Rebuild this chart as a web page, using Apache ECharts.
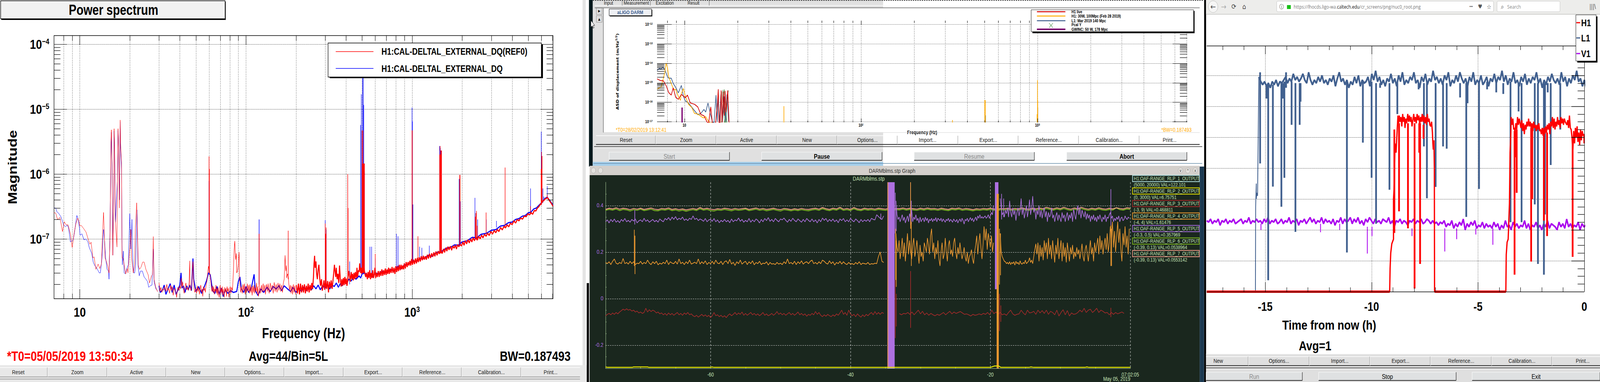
<!DOCTYPE html>
<html><head><meta charset="utf-8"><style>html,body{margin:0;padding:0;background:#fff;overflow:hidden}#c{width:5004px;height:977px;transform-origin:0 0}</style>
<script src="https://cdn.jsdelivr.net/npm/echarts@6/dist/echarts.min.js"></script></head><body><div id="c"></div>
<script>
// ---------- PANEL 1 : Power spectrum. pairs [Hz, magnitude in 1e-8]
const refLow=[[7,25.4],[7.16,25],[7.35,20],[7.6,21.4],[7.87,13],[8.07,18.4],[8.28,16.5],[8.5,16.5],[8.8,11.7],[9,7.4],[9.25,12.2],[9.48,17.3],[9.72,20.9],[9.9,18.6],[10,15.8],[10.2,16.2],[10.5,14.7],[10.9,12.8],[11.2,10.2],[11.5,8.3],[11.7,8.9],[12,5.1],[12.2,5.3],[12.5,3.4],[12.9,4.1],[13.2,3.5],[13.5,4.1],[13.7,11.7],[13.9,25.6],[14,16],[14.2,5.1],[14.5,4.4],[14.8,3.7],[15,3],[15.2,10],[15.4,320],[15.5,480],[15.65,140],[15.75,20],[15.8,5.6],[16,40],[16.1,500],[16.2,290],[16.35,20],[16.75,7.5],[16.85,100],[17,500],[17.1,320],[17.3,30],[17.5,680],[17.6,300],[17.85,150],[17.95,6],[18,5.1],[18.2,5.1],[18.6,3.7],[18.9,2.9],[19.3,3.5],[19.5,3],[20,7.4],[20.3,14],[20.5,5.1],[21,3],[21.4,4],[21.6,14.7],[22,36],[22.2,16.2],[22.5,3.9],[22.9,3.4],[23.4,3.7],[23.9,4.4],[24.4,4.4],[25,3.4],[25.8,2.8],[26.3,2.1],[27,2.7],[27.4,2.8],[27.7,10.9],[28,2.4],[28.6,1.84],[29.4,1.53]];
const refMid=[[30,2.1],[30.4,1.55],[30.8,1.8],[31.2,1.5],[31.6,1.7],[32,1.62],[32.5,1.85],[33,1.55],[33.4,2],[33.8,1.6],[34.2,1.75],[34.7,1.45],[35.2,1.95],[35.6,1.6],[36,1.85],[36.5,1.35],[37,1.75],[37.5,1.6],[38,1.45],[38.3,1.25],[38.6,1.6],[39,1.8],[39.5,1.6],[40,1.9],[40.4,1.7],[40.8,2.5],[41.2,1.8],[41.6,2.2],[42,1.7],[42.5,1.45],[43,1.8],[43.5,2.1],[44,1.65],[44.5,1.8],[45,1.6],[45.5,2.2],[45.9,4.6],[46.1,1.9],[46.7,1.6],[47.2,1.9],[47.6,3.2],[48,4.5],[48.3,2.5],[48.8,1.7],[49.3,1.5],[50,1.75],[50.5,1.45],[51,1.9],[51.5,1.55],[52,1.8],[52.5,1.4],[53,1.7],[53.5,1.95],[54,1.5],[54.5,1.7],[55,1.3],[55.5,1.85],[56,1.6],[56.5,1.75],[57,1.5],[57.5,1.9],[58,2.1],[58.5,2.4],[59,3.2],[59.5,3.8],[60.5,3],[61,2.6],[61.5,2.2],[62,1.7],[62.5,1.55],[63,1.9],[63.5,1.5],[64,1.85],[64.5,1.4],[65,1.7],[65.5,1.55],[66,1.95],[66.5,1.45],[67,1.75],[67.5,1.35],[68,1.8],[68.5,1.5],[69,1.25],[69.5,1.7],[70,1.95],[70.5,1.4],[71,1.75],[71.5,1.5],[72,1.85],[72.5,1.35],[73,1.7],[73.5,1.45],[74,1.25],[74.5,1.8],[75,1.5],[75.7,1.75],[76.4,1.3],[77,1.85],[77.7,1.55],[78.4,1.75],[79,1.25],[79.8,1.65],[80.5,1.85],[81.2,1.45],[82,1.8],[83,1.6],[84,3],[85,7],[85.7,9.3],[86.2,6.5],[86.8,4.8],[87.5,6],[88,3],[89,3.2],[90,4],[91,6.3],[91.5,2.5],[92,2],[93,1.5],[94,1.85],[95,1.45],[96,2],[97,1.6],[98,2.05],[99,1.4],[100,1.85],[101,1.5],[102,2.05],[103,1.55],[104,1.95],[105,1.45],[106,2],[107,1.5],[108,1.85],[109,1.35],[110,1.9],[111,1.5],[112,1.95],[113,1.45],[114,1.8],[115,1.55],[116,2.1],[117,1.4],[118,1.85],[119,1.3],[121,1.8],[122,1.45],[124,1.95],[125,1.5],[127,2.05],[128,1.55],[130,1.95],[131,1.4],[133,2],[135,1.55],[136,2.05],[138,1.45],[140,2.1],[142,1.6],[144,1.95],[146,1.45],[148,2.15],[150,1.55],[152,2],[154,1.5],[156,2.1],[158,1.6],[160,2.05],[162,1.55],[164,1.95],[166,1.5],[168,2.1],[170,2.4],[172,5.6],[173,4],[174,3.2],[175,3.9],[176,2.5],[178,2.9],[180,2.6],[181,2.1],[183,1.6],[185,1.95],[187,1.45],[189,1.9],[191,1.4],[193,2],[195,1.5],[197,1.9],[199,1.4]];
const refHigh=[[201,1.95],[204,1.45],[207,2.05],[210,1.4],[213,2.05],[216,1.5],[219,1.95],[222,1.5],[225,2],[228,1.45],[231,1.9],[234,1.55],[237,2.05],[240,1.5],[243,1.95],[246,1.6],[249,2.1],[252,1.7],[255,2.6],[257,4.2],[259,5.5],[261,3.6],[264,4.5],[266,3],[269,2.4],[272,3.4],[275,4],[278,2.5],[281,1.9],[285,2.4],[288,1.6],[292,1.9],[295,2.3],[298,1.65],[302,2.3],[306,1.7],[310,2.25],[314,1.5],[318,2.2],[322,1.75],[326,2.3],[330,1.7],[334,2.25],[338,3.1],[341,4],[344,3.2],[347,2.6],[350,3.6],[354,2.4],[358,2.9],[362,2.1],[366,3.9],[370,2.4],[374,1.85],[378,2.4],[382,1.9],[386,2.5],[390,1.95],[394,2.6],[398,2],[402,2.45],[406,1.9],[412,2.6],[416,3.2],[420,2.8],[424,2.2],[430,3.1],[434,2.4],[438,2.9],[443,2.3],[447,3],[452,2.4],[456,3.1],[462,2.5],[466,3.6],[470,2.6],[476,3.3],[480,3.1],[484,4.2],[490,3],[494,3.6],[498,2.9],[504,3.4],[512,3.8],[520,2.9],[526,2.6],[532,3],[538,2.4],[544,3.1],[550,2.5],[556,3.3],[562,2.4],[568,3],[574,2.5],[580,3.3],[586,2.5],[592,2.8],[598,3.6],[604,2.5],[610,3],[618,2.6],[626,3.2],[634,2.6],[642,3.2],[650,2.7],[658,3.4],[666,2.7],[674,3.3],[682,2.8],[690,3.5],[698,2.8],[706,3.4],[714,2.9],[722,3.6],[730,2.9],[738,3.5],[748,3],[758,3.7],[768,3],[778,3.6],[788,2.9],[798,3.8],[808,3.1],[818,3.8],[828,3.2],[838,4],[848,3.3],[858,4],[868,3.4],[878,3.9],[888,3.4],[898,4.2],[910,3.5],[922,4.4],[934,3.7],[946,4.4],[958,3.9],[970,4.6],[982,3.9],[994,4.9],[1006,4],[1020,4.8],[1034,4.1],[1048,5],[1062,4.2],[1076,5.1],[1090,4.4],[1104,5.2],[1120,4.5],[1136,5.4],[1152,4.7],[1168,5.5],[1184,4.8],[1200,5.4],[1218,4.8],[1236,5.7],[1254,5],[1272,5.9],[1292,5.1],[1312,6],[1332,5.3],[1352,6.2],[1372,5.4],[1392,6.4],[1414,5.6],[1436,6.5],[1458,5.9],[1480,6.7],[1520,6],[1545,7],[1570,6.2],[1595,7.3],[1620,6.5],[1645,7.6],[1670,6.8],[1700,7.7],[1730,6.7],[1760,7.8],[1790,7.2],[1820,8],[1850,7],[1880,8.2],[1910,7.6],[1950,8.2],[1985,7.8],[2020,9],[2055,8],[2090,9.4],[2130,8.4],[2170,9.7],[2210,8.7],[2250,10],[2290,9],[2330,10.4],[2375,9.4],[2420,10.6],[2465,9.6],[2520,11],[2570,10],[2620,11.5],[2670,10.4],[2730,11.8],[2790,11],[2850,12.3],[2910,11.3],[2980,13],[3050,11.9],[3120,13.5],[3190,12.5],[3260,14],[3330,13],[3410,15],[3490,13.8],[3570,15.6],[3650,14.8],[3730,16.5],[3820,15.4],[3910,17.6],[4000,16.6],[4100,19],[4200,17.6],[4300,20],[4400,19],[4500,21],[4620,20.2],[4740,22.6],[4860,22],[4980,24.5],[5100,23.5],[5200,25.5],[5320,24],[5440,27.4],[5560,27],[5680,30],[5800,31.5],[5900,34],[6000,35],[6100,38],[6200,39],[6300,41],[6400,42],[6500,43],[6600,42],[6700,39],[6800,37],[6900,35],[7050,32]];
const dqLow=[[7,30],[7.16,29.8],[7.3,26],[7.45,25],[7.7,22],[7.85,19],[8,16.4],[8.2,15.4],[8.4,16.3],[8.55,15],[8.7,11],[8.78,9],[9,9.4],[9.14,9.7],[9.3,12.8],[9.5,19],[9.6,23],[9.75,20.8],[9.95,15],[10.05,11.4],[10.3,12],[10.6,9.7],[10.9,10],[11.2,9],[11.4,7.4],[11.8,6],[12.05,4.4],[12.3,3.9],[12.7,3.5],[13.1,3],[13.3,3],[13.6,5],[13.9,14],[14.05,11],[14.3,5.2],[14.6,3.4],[14.9,3.2],[15,2.4],[15.2,13],[15.4,230],[15.5,440],[15.65,120],[15.8,5.6],[16,50],[16.1,460],[16.2,240],[16.4,18],[16.85,80],[17,470],[17.1,290],[17.35,40],[17.5,640],[17.6,270],[17.85,120],[17.95,10],[18.05,4],[18.3,6.5],[18.5,3],[18.8,2.9],[19.2,3.5],[19.6,4],[20,24.5],[20.3,7],[20.6,20],[20.85,5],[21.1,3],[21.4,3],[21.7,4],[22.1,28],[22.4,4],[22.8,2.7],[23.2,3.2],[23.8,3.2],[24.4,2.6],[25,2.4],[25.6,2.2],[26,1.8],[26.6,1.9],[27.2,1.95],[27.7,7],[28,2.2],[28.7,1.7],[29.4,1.6]];
const dqMain=[[30,1.9],[30.5,1.5],[31.5,1.65],[32.2,1.95],[33,1.4],[34,1.7],[35,2.05],[36,1.5],[37,1.95],[38,1.4],[39,1.65],[40,1.95],[40.7,3],[41.2,1.75],[42,1.9],[43,1.5],[44,1.9],[45,1.65],[46,1.95],[47,1.6],[48,5],[48.5,2.4],[50,1.55],[52,1.85],[54,1.45],[56,1.8],[58,2.3],[59.5,3],[61,2.8],[63,1.6],[65,1.45],[67,1.85],[69,1.4],[71,1.75],[73,1.3],[75,1.65],[78,1.45],[81,1.6],[84,1.5],[88,1.55],[90,2.2],[92,2.6],[94,1.7],[97,1.5],[100,1.85],[104,1.5],[108,1.8],[112,2.85],[114,1.6],[118,1.35],[123,1.7],[128,1.5],[134,1.8],[140,1.55],[146,1.85],[152,1.7],[158,1.9],[164,1.6],[170,1.9],[178,1.7],[186,1.55],[192,1.8],[200,1.5],[208,1.75],[216,1.55],[224,1.85],[232,1.6],[240,1.8],[248,1.65],[256,1.9],[264,1.7],[272,1.95],[280,1.65],[290,1.9],[300,1.75],[310,2],[320,1.7],[330,1.95],[340,1.85],[350,2.1],[360,1.8],[370,2.05],[380,1.9],[392,2.4],[404,2.05],[416,2.4],[430,2.25],[445,2.6],[460,2.4],[480,2.7],[490,2.5],[500,2.9],[520,3],[540,2.6],[560,2.9],[580,2.6],[600,3],[630,2.9],[660,3.2],[700,3],[740,3.4],[780,3.2],[820,3.8],[860,3.5],[900,4],[950,4.1],[1000,4.6],[1060,4.5],[1120,5],[1180,5],[1250,5.6],[1320,5.4],[1400,6.2],[1500,6.4],[1600,7.2],[1700,7.4],[1800,8.1],[1900,8],[2000,9],[2150,9.4],[2300,10.6],[2450,10.4],[2600,11.8],[2800,12.2],[3000,13.6],[3200,14],[3400,15.8],[3600,16.2],[3800,17.8],[4000,18.2],[4200,20],[4400,20.6],[4600,22.4],[4800,23],[5000,25.2],[5200,26],[5400,29],[5600,30],[5800,33],[6000,36],[6300,42],[6500,44],[6700,40],[6900,36],[7050,33]];
// spikes: [Hz, foot, peak] in 1e-8
const refSpikes=[[60,3,187],[60.3,3,120],[120,1.8,12],[120.2,1.8,12],[179.6,2.4,13.4],[300,1.8,17.3],[302,1.8,12],[304,1.8,15],[410,2.2,100],[412,2.2,30],[500,3,470],[503,3,145],[506,3,470],[508,3,145],[510,3,145],[514,3,145],[517,3,145],[600,3,5.9],[1000,4.3,470],[1003,4.3,470],[1085,5,11],[1465,6,200],[1475,6,270],[1485,6,200],[1495,6,230],[1505,6,230],[1935,8,97],[1945,8,97],[2400,10,22],[2420,10,25],[2440,10,27],[2470,10,16],[2790,12,25.6],[3630,15,126],[5160,24,32],[5980,33,120],[6020,35,220],[6060,36,190],[6500,42,48]];
const dqSpikes=[[60,3,78],[120,2,20],[120.2,2,20],[300,2,19.5],[304,2,14],[421,2,4.5],[490,3,570],[495,3,1700],[504,3,5000],[508,3,5000],[512,3,1160],[516,3,110],[558,2.8,7.6],[571,2.8,7.6],[600,3,5],[805,3.5,12],[823,3.5,11],[1000,4.3,1060],[1005,4.3,650],[1012,4.3,34],[1110,5,7.6],[1145,5,7.3],[1270,5.5,7.9],[1465,6,270],[1478,6,250],[1490,6,230],[1500,6,230],[1920,8,84],[1955,8,38],[2390,10,43],[2480,10,20],[2795,12,20],[3220,15,19],[5165,24,60],[5170,24,40],[5990,33,450],[6130,36,60],[6210,38,45],[6510,42,65]];
const p1XTicks=[8,9,10,20,30,40,50,60,70,80,90,100,200,300,400,500,600,700,800,900,1000,2000,3000,4000,5000,6000,7000];
const p1XMajor=[10,100,1000];
const p1YMajor=[1e-7,1e-6,1e-5,1e-4];
const p1YMinor=[2e-8,3e-8,4e-8,5e-8,6e-8,7e-8,8e-8,9e-8,2e-7,3e-7,4e-7,5e-7,6e-7,7e-7,8e-7,9e-7,2e-6,3e-6,4e-6,5e-6,6e-6,7e-6,8e-6,9e-6,2e-5,3e-5,4e-5,5e-5,6e-5,7e-5,8e-5,9e-5];
const p1LegendNames=['H1:CAL-DELTAL_EXTERNAL_DQ(REF0)','H1:CAL-DELTAL_EXTERNAL_DQ'];

// ---------- PANEL 2 : aLIGO DARM. pairs [Hz, ASD in 1e-17]
const darmL1=[[7,430],[7.22,543],[7.37,500],[7.53,614],[7.73,500],[7.87,316],[8.02,199],[8.15,171],[8.42,171],[8.64,92],[8.92,58],[9.24,30],[9.61,73],[9.87,19.7],[10.13,11.5],[10.54,9.1],[11.27,4.2],[11.9,2.27],[12.4,2.65],[12.9,4.2],[13.2,3.09],[13.6,9.1],[14,2.65],[14.4,1],[14.7,.8],[15.1,23],[15.35,1],[15.5,20],[15.8,1],[16.1,25],[16.4,1],[16.8,20],[17.1,1],[17.4,25],[17.8,1]];
const darmH1Ref=[[7,46],[7.22,56],[7.37,58],[7.53,125],[7.73,316],[7.87,1000],[8.02,590],[8.15,199],[8.42,92],[8.64,50],[8.8,43],[8.92,46],[9.24,19.7],[9.5,12.4],[9.6,27],[9.87,50],[10.13,19.7],[10.54,7.8],[11,5.3],[11.4,2.65],[11.9,2.45],[12.8,1.54],[13.2,1.8],[13.6,1.13],[14,.83],[14.4,.9]];
const darmLive=[[7,158],[7.3,130],[7.6,125],[7.9,67],[8.15,31],[8.42,23],[8.64,54],[8.92,18],[9.24,14],[9.61,25],[10.13,17],[10.4,23],[10.8,9.1],[11.4,7.8],[11.9,5.7],[12.4,2.3],[12.9,2],[13.4,1],[13.7,.8],[14.1,5.7],[14.4,.85],[15,.8],[15.4,10],[15.55,46],[15.7,.9],[15.95,.9],[16.15,40],[16.35,.9],[16.6,35],[16.8,2],[17,38],[17.2,3],[17.6,40],[17.9,.9]];
const darmPcal=[[16.2,.8],[16.8,45],[17.4,.8],[16.5,42],[17.1,.8],[17.7,40],[16.9,.8],[16.3,35]];
const darmSpikesH1Ref=[[36.6,.9,6.2],[330,.9,1.2],[503,.9,12.8],[506,.9,12.8],[995,.9,2.4],[1000,.9,135],[1003,.9,12]];
const darmSpikesL1=[[508,.9,2.1],[1004,.9,5.3]];
const darmGwinc=[[9.7,.9,5.3]];
const p2XTicks=[8,9,10,20,30,40,50,60,70,80,90,100,200,300,400,500,600,700,800,900,1000,2000,3000,4000,5000,6000,7000];
const p2YMajor=[1e-17,1e-16,1e-15,1e-14,1e-13,1e-12];
const p2YMinor=[2,3,4,5,6,7,8,9];
const p2LegendNames=['H1 live','H1: 30W, 100Mpc (Feb 28 2019)','L1: Mar 2019 140 Mpc','Pcal Y','GWINC: 50 W, 178 Mpc'];

// ---------- PANEL 3 : DARMblms.stp strip chart. y in normalised units, t in minutes
const stripAStart=-75, stripAStep=.25;
const orangeA=[.155,.15,.158,.146,.16,.17,.152,.148,.155,.15,.172,.15,.155,.148,.16,.15,.158,.146,.152,.15,.16,.148,.155,.15,.165,.152,.146,.158,.15,.16,.145,.152,.148,.156,.15,.165,.146,.158,.152,.15,.16,.148,.17,.15,.156,.146,.158,.15,.165,.148,.152,.156,.15,.17,.148,.158,.15,.162,.146,.155,.15,.16,.148,.165,.152,.15,.16,.146,.158,.162,.15,.168,.148,.156,.142,.158,.15,.165,.148,.155,.16,.146,.158,.15,.162,.145,.155,.15,.16,.146,.152,.15,.158,.144,.155,.148,.15,.146,.155,.148,.152,.146,.158,.15,.17,.15,.155,.148,.16,.146,.158,.15,.162,.148,.155,.158,.15,.16,.165,.15,.155,.148,.158,.15,.165,.16,.152,.148,.162,.15,.158,.144,.155,.15,.16,.148,.158,.15,.146,.155,.148,.15,.146,.155,.148,.158,.146,.152,.15,.148,.155,.146,.15,.148,.152,.15,.18,.2,.16,.155];
const purpleA=[.33,.338,.325,.34,.33,.342,.328,.335,.326,.34,.332,.344,.33,.336,.328,.34,.333,.342,.325,.334,.338,.33,.345,.332,.338,.328,.334,.34,.33,.336,.328,.342,.335,.33,.344,.338,.348,.336,.35,.34,.352,.338,.345,.34,.35,.336,.342,.335,.345,.34,.355,.34,.345,.335,.342,.338,.332,.344,.33,.338,.34,.332,.344,.33,.338,.326,.336,.33,.34,.33,.336,.326,.342,.33,.338,.334,.346,.332,.34,.328,.336,.33,.344,.328,.338,.33,.342,.336,.325,.34,.33,.344,.335,.348,.332,.34,.33,.344,.336,.33,.342,.338,.346,.336,.328,.34,.332,.345,.336,.33,.342,.335,.328,.34,.33,.344,.336,.33,.342,.33,.338,.325,.34,.33,.346,.336,.344,.33,.34,.332,.342,.33,.338,.326,.342,.335,.344,.33,.338,.33,.344,.336,.33,.342,.335,.326,.34,.33,.338,.332,.34,.33,.345,.34,.338,.36,.352,.345,.34,.355];
const stripBStart=-33.5, stripCStart=-18.6, stripBStep=.15;
const orangeB=[.28,.22,.2,.25,.17,.21,.26,.18,.24,.16,.22,.28,.19,.25,.2,.17,.23,.26,.18,.21,.25,.2,.15,.23,.18,.2,.16,.24,.22,.2,.26,.23,.19,.27,.3,.2,.24,.17,.22,.19,.25,.17,.14,.2,.24,.17,.19,.26,.2,.16,.23,.25,.19,.21,.18,.24,.26,.2,.17,.22,.19,.24,.2,.17,.19,.22,.18,.16,.2,.15,.18,.19,.21,.17,.15,.2,.23,.27,.19,.24,.28,.22,.17,.23,.31,.25,.3,.21,.28,.25,.22,.27,.2,.24];
const orangeC=[.28,.2,.18,.17,.16,.158,.15,.155,.148,.158,.146,.155,.15,.158,.144,.16,.15,.155,.146,.162,.15,.148,.155,.15,.165,.15,.155,.16,.175,.155,.165,.15,.18,.21,.235,.19,.24,.16,.23,.18,.22,.165,.25,.2,.24,.17,.26,.19,.23,.17,.25,.2,.155,.23,.19,.26,.17,.21,.25,.16,.24,.18,.22,.155,.24,.2,.16,.22,.19,.23,.17,.2,.18,.22,.19,.21,.17,.2,.235,.18,.16,.21,.23,.19,.16,.21,.25,.19,.22,.16,.24,.2,.23,.26,.19,.27,.21,.25,.19,.23,.26,.21,.28,.2,.24,.31,.26,.33,.22,.29,.2,.27,.33,.24,.3,.21,.16,.28,.23,.31,.22,.27,.19,.3];
const purpleB=[.42,.36,.34,.35,.33,.345,.36,.335,.35,.325,.34,.355,.33,.365,.345,.38,.33,.35,.34,.36,.335,.345,.325,.35,.33,.34,.345,.33,.35,.335,.345,.325,.34,.335,.345,.33,.342,.335,.348,.33,.345,.34,.335,.345,.33,.342,.335,.328,.34,.335,.345,.33,.34,.335,.328,.342,.335,.33,.34,.325,.335,.342,.33,.345,.335,.32,.34,.335,.345,.33,.34,.348,.335,.345,.33,.34,.35,.335,.355,.345,.36,.345,.352,.345,.35,.355,.345,.35,.36,.345,.355,.37,.36,.4];
const purpleC=[.43,.39,.36,.37,.35,.38,.365,.39,.35,.42,.37,.35,.39,.36,.38,.335,.37,.39,.355,.38,.43,.36,.39,.345,.37,.4,.35,.38,.425,.36,.39,.44,.37,.39,.34,.38,.36,.4,.35,.38,.345,.37,.39,.35,.375,.33,.37,.35,.36,.39,.345,.36,.33,.355,.37,.335,.36,.345,.33,.37,.345,.36,.33,.355,.37,.335,.36,.345,.37,.33,.385,.36,.34,.375,.4,.36,.39,.345,.38,.365,.35,.375,.34,.365,.345,.36,.33,.355,.34,.36,.335,.35,.33,.355,.34,.36,.345,.33,.35,.34,.36,.33,.35,.345,.36,.37,.345,.355,.33,.345,.335,.35,.34,.355,.33,.345,.35,.335,.34,.355,.345,.34,.35,.345];
const stripDStep=.5;
const salmonAll=[.383,.388,.385,.39,.384,.388,.386,.382,.387,.384,.388,.383,.386,.389,.384,.382,.387,.385,.389,.383,.386,.382,.385,.381,.384,.387,.383,.391,.385,.388,.384,.382,.386,.384,.388,.386,.383,.387,.384,.386,.388,.383,.386,.389,.384,.387,.383,.385,.388,.384,.382,.387,.385,.382,.386,.383,.387,.384,.383,.386,.388,.384,.391,.386,.383,.388,.385,.392,.384,.387,.383,.391,.385,.383,.388,.385,.387,.384,.388,.386,.384,.388,.384,.387,.386,.389,.385,.388,.386,.384,.388,.385,.389,.386,.387,.384,.388,.385,.383,.388,.386,.389,.384,.387,.385,.382,.386,.384,.387,.385,.388,.385,.383,.387,.386,.388,.384,.387,.385,.39,.386,.384,.388,.385,.389,.386,.392,.388,.385,.39,.386,.392,.387,.384,.389,.386,.392,.387,.384,.388,.385,.39,.386,.384,.388,.385,.39,.387,.385,.39,.388];
const greenAll=[.379,.383,.38,.385,.378,.383,.381,.376,.382,.379,.384,.378,.381,.384,.378,.377,.382,.38,.384,.378,.381,.376,.38,.375,.379,.382,.378,.386,.38,.383,.378,.376,.381,.379,.383,.38,.377,.382,.379,.381,.384,.378,.381,.384,.379,.382,.377,.38,.383,.379,.376,.382,.38,.377,.381,.378,.382,.379,.377,.381,.383,.379,.386,.381,.378,.383,.38,.387,.379,.382,.378,.386,.38,.378,.383,.38,.382,.379,.383,.381,.379,.383,.378,.382,.381,.384,.38,.383,.381,.379,.383,.38,.384,.381,.382,.379,.383,.38,.378,.383,.381,.384,.379,.382,.38,.377,.381,.379,.382,.38,.383,.38,.378,.382,.381,.383,.379,.382,.38,.385,.381,.379,.383,.38,.384,.381,.387,.383,.38,.385,.381,.387,.382,.379,.384,.381,.387,.382,.379,.383,.38,.385,.381,.379,.383,.38,.39,.382,.38,.385,.383];
const darkRedA=[-.075,-.068,-.064,-.07,-.062,-.068,-.06,-.066,-.058,-.052,-.046,-.05,-.044,-.05,-.047,-.054,-.05,-.058,-.054,-.062,-.058,-.064,-.06,-.042,-.058,-.048,-.056,-.05,-.054,-.062,-.058,-.066,-.062,-.07,-.064,-.072,-.062,-.07,-.064,-.072,-.066,-.06,-.07,-.064,-.072,-.062,-.068,-.06,-.07,-.066,-.074,-.078,-.072,-.08,-.074,-.068,-.076,-.07,-.078,-.072,-.082,-.074,-.06,-.074,-.07,-.078,-.072,-.08,-.074,-.082,-.072,-.066,-.074,-.068,-.06,-.07,-.062,-.068,-.058,-.072,-.064,-.072,-.066,-.06,-.07,-.064,-.072,-.066,-.074,-.068,-.06,-.072,-.066,-.074,-.07,-.064,-.072,-.066,-.056,-.068,-.062,-.07,-.064,-.072,-.066,-.06,-.07,-.064,-.072,-.066,-.058,-.07,-.064,-.072,-.066,-.076,-.068,-.072,-.064,-.07,-.056,-.068,-.06,-.072,-.078,-.07,-.076,-.068,-.074,-.078,-.07,-.076,-.066,-.072,-.062,-.05,-.068,-.06,-.072,-.05,-.066,-.074,-.068,-.078,-.066,-.074,-.08,-.07,-.078,-.068,-.074,-.066,-.06,-.07,-.056,-.068,-.06,-.068,-.06,-.064];
const stripEStart=-33, stripEStep=.3;
const darkRedB=[-.065,-.07,-.064,-.066,-.06,-.068,-.058,-.07,-.06,-.05,-.066,-.055,-.07,-.062,-.072,-.064,-.07,-.074,-.068,-.072,-.066,-.06,-.07,-.062,-.055,-.066,-.058,-.064,-.06,-.056,-.062,-.068,-.066,-.07,-.075,-.068,-.072,-.07,-.066,-.07,-.064,-.068,-.06,-.07,-.05,-.065,-.058,-.068,-.06,-.07,-.066,-.072,-.06,-.05,-.066,-.072,-.068,-.066,-.05,-.062,-.07,-.05,-.062,-.06,-.055,-.068,-.05,-.062,-.052,-.064,-.05,-.068,-.055,-.06,-.07,-.05,-.075,-.06,-.048,-.07,-.052,-.075,-.062,-.068,-.066,-.06,-.05,-.058,-.042,-.06,-.05,-.046,-.06,-.052,-.042,-.06,-.05,-.055,-.062,-.06,-.07,-.06,-.068,-.06,-.066,-.062,-.058,-.064];
const yellowAll=[[-75,-.294],[-74.7,-.296],[-71.2,-.296],[-71,-.294],[-69,-.294],[-68.8,-.296],[-60,-.296],[-59.8,-.294],[-59.5,-.296],[-20,-.296],[-19.4,-.29],[-18.8,-.29],[-18.5,-.296],[-14.5,-.296],[-14.2,-.294],[-13.8,-.296],[-6.5,-.296],[-6.2,-.294],[-5.9,-.296],[0,-.296]];
const bursts=[[-34.72,-33.68,-.3,.5]];
const orangeBars=[[-19.1,-18.8,-.3,.45]];
const purpleBars=[[-19.35,-18.85,.04,.5]];
const stripPurpleSpikes=[[-70.83,.318,.38],[-35.66,.34,.365],[-33.6,.28,.455],[-33.45,.29,.4],[-31.4,.315,.5],[-31.3,.32,.42],[-18.4,.34,.45],[-18.1,.35,.43],[-2.78,.308,.47]];
const stripOrangeSpikes=[[-70.9,.14,.296],[-70.8,.105,.27],[-34.65,-.3,.5],[-33.55,.08,.3],[-33.45,.05,.25],[-31.4,.3,.5],[-31.3,.14,.33],[-18.7,.06,.3],[-18.55,.1,.28],[-2.78,.14,.315],[-2.68,.14,.3]];
const stripRedSpikes=[[-33.6,-.17,.08],[-33.45,-.12,.02],[-31.4,-.126,.118],[-19,-.14,.02],[-18.7,-.14,.02],[-18.5,-.1,-.03],[-2.78,-.08,-.04]];
const stripRange=[['H1:OAF-RANGE_RLP_1_OUTPUT','(5000, 20000) VAL=122.101','#b5e6e6'],['H1:OAF-RANGE_RLP_2_OUTPUT','(0, 3000) VAL=6.75751','#e6e600'],['H1:OAF-RANGE_RLP_3_OUTPUT','(-3, 9) VAL=0.468811','#a52a2a'],['H1:OAF-RANGE_RLP_4_OUTPUT','(-4, 4) VAL=1.61476','#f09a30'],['H1:OAF-RANGE_RLP_5_OUTPUT','(-0.3, 0.5) VAL=0.357969','#a56fdc'],['H1:OAF-RANGE_RLP_6_OUTPUT','(-0.39, 0.13) VAL=0.0538964','#7fba20'],['H1:OAF-RANGE_RLP_7_OUTPUT','(-0.39, 0.13) VAL=0.0553142','#f4a08c']];
const stripYGrid=[.4,.2,0,-.2];
const stripXGrid=[-60,-40,-20,0];
const stripYMinor=[-.25,-.15,-.1,-.05,.05,.1,.15,.25,.3,.35,.45];
const stripXMinor=[-70,-65,-55,-50,-45,-35,-30,-25,-15,-10,-5];

// ---------- PANEL 4 : range vs time. t in hours, y in Mpc
const l1Start=-15.3, l1Step=.09;
const l1Band=[139,136,134,136,133,135,132,136,134,137,133,136,135,137,139,135,138,136,141,137,139,136,138,141,137,135,142,137,134,137,135,139,136,140,135,137,134,138,136,140,133,138,142,136,138,134,137,132,136,134,139,135,140,133,137,135,136,139,133,141,137,143,136,139,134,137,133,138,136,141,135,138,133,140,136,142,134,137,135,139,137,142,135,137,132,139,136,141,134,138,136,143,137,139,135,138,134,140,137,142,133,137,135,140,136,142,138,135,138,133,139,136,142,134,137,135,140,134,136,139,133,138,136,141,135,139,137,143,136,140,134,138,136,142,135,137,133,139,136,141,134,138,135,139,137,142,135,138,132,137,134,139,136,141,137,135,138,134,142,136,139,133,138,135,140,137,143,136,138,133,137,132,136,134,138,135,137,136,139,136,138,135,137,134];
const v1Start=-17.75, v1Step=.09;
const v1Band=[46,45,47,44,46,45,47,43,46,45,47,44,46,45,47,44,45,46,47,44,46,45,48,44,46,45,47,45,46,44,47,45,48,44,46,45,47,44,45,47,44,46,45,48,44,46,45,47,43,46,45,47,44,46,48,45,47,44,46,45,48,44,47,45,46,44,47,43,46,45,48,44,47,45,46,48,44,47,45,48,44,46,43,47,45,48,46,44,47,45,46,44,47,46,45,48,44,46,42,46,45,47,44,46,45,43,46,45,47,44,46,45,47,44,45,47,46,44,46,44,45,43,45,44,46,42,44,43,46,41,44,42,45,43,47,40,44,42,45,43,46,41,43,42,45,41,44,42,43,41,45,42,44,40,43,41,46,42,43,40,45,42,44,41,43,42,46,41,44,40,43,42,45,41,43,40,44,42,46,41,44,43,42,40,45,42,44,41,47,42,44,41,43,42,45,40,44,42,43,41,45,43,42,41,44,42,46,41,44,42,45,41,43,42,46,43,44,42,45,43,44,46,42,43,45,41,43,44,42,46,41,44,43];
const h1Segments=[[[-9.15,0],[-9.13,15],[-9.1,25],[-9.05,31],[-8.97,34],[-8.97,60],[-8.93,70],[-8.9,96],[-8.85,90],[-8.8,104],[-8.76,114],[-8.73,109],[-8.7,114],[-8.66,110],[-8.62,113],[-8.58,107],[-8.54,115],[-8.5,110],[-8.46,113],[-8.43,106],[-8.39,112],[-8.35,109],[-8.3,115],[-8.26,110],[-8.22,114],[-8.18,110],[-8.14,113],[-8.1,107],[-8.06,111],[-8.02,115],[-7.98,110],[-7.94,113],[-7.9,109],[-7.86,115],[-7.82,111],[-7.78,114],[-7.74,108],[-7.7,113],[-7.66,110],[-7.62,115],[-7.58,110],[-7.54,114],[-7.5,109],[-7.46,113],[-7.42,108],[-7.38,115],[-7.34,110],[-7.3,112],[-7.26,108],[-7.22,107],[-7.18,110],[-7.14,103],[-7.12,96],[-7.1,92],[-7.07,98],[-7.05,80],[-7.04,0]],[[-3.69,0],[-3.67,24],[-3.63,32],[-3.58,34],[-3.52,57],[-3.49,90],[-3.46,100],[-3.44,113],[-3.4,108],[-3.36,112],[-3.32,105],[-3.29,106],[-3.26,103],[-3.22,109],[-3.18,105],[-3.14,113],[-3.1,108],[-3.06,112],[-3.02,109],[-2.98,106],[-2.94,111],[-2.9,104],[-2.86,109],[-2.82,102],[-2.78,108],[-2.74,105],[-2.7,110],[-2.66,107],[-2.62,112],[-2.58,107],[-2.54,110],[-2.5,106],[-2.46,109],[-2.42,104],[-2.38,110],[-2.34,106],[-2.3,108],[-2.26,104],[-2.22,108],[-2.18,105],[-2.14,109],[-2.1,104],[-2.06,105],[-2.02,102],[-1.98,106],[-1.94,101],[-1.9,106],[-1.86,102],[-1.82,107],[-1.78,103],[-1.74,108],[-1.7,105],[-1.66,109],[-1.62,102],[-1.58,110],[-1.54,107],[-1.5,113],[-1.46,106],[-1.42,112],[-1.38,105],[-1.34,110],[-1.3,107],[-1.26,113],[-1.22,108],[-1.18,111],[-1.14,106],[-1.1,113],[-1.06,109],[-1.02,112],[-.98,108],[-.94,112],[-.9,110],[-.86,109],[-.82,108],[-.78,111],[-.74,106],[-.7,114],[-.66,106],[-.62,105],[-.58,100],[-.54,92],[-.5,104],[-.46,96],[-.42,106],[-.38,100],[-.34,107],[-.3,97],[-.26,103],[-.22,95],[-.18,105],[-.14,98],[-.1,104],[-.06,101],[-.02,102],[-.01,96]]];
const h1Down=[[-17.75,0],[-9.15,0],[-9.15,'-'],[-7.04,0],[-3.69,0]];
// dips: [h, band, bottom] Mpc
const l1Rise=[[-15.46,0],[-15.45,55],[-15.42,70],[-15.42,60],[-15.39,64],[-15.36,62],[-15.33,100],[-15.3,139]];
const l1Dips=[[-15.24,142,83],[-14.94,134,125],[-14.86,134,7.4],[-14.64,134,68],[-14.24,135,55],[-14.16,135,125],[-14.1,136,73.7],[-14.02,142,132],[-13.76,136,108],[-13.58,135,38.7],[-13.38,135,108],[-13.34,135,123],[-11.16,136,25.4],[-10.41,136,96.5],[-10,136,73.7],[-9.79,135,44],[-9.6,135,132],[-9.16,135,66],[-8.79,135,115],[-7.79,135,131],[-7.54,135,94],[-7.4,135,60.5],[-6.99,135,67.8],[-6.64,135,94],[-6.47,135,92.6],[-5.84,135,125.7],[-5.55,135,48.4],[-5.49,135,122],[-4.95,135,66.5],[-4.57,136,131],[-4.14,135,129],[-3.81,135,128],[-3.47,136,45],[-3.09,135,116.7],[-2.95,135,45],[-2.33,135,56.5],[-2.18,135,18],[-1.9,135,11],[-1.85,135,50],[-1.72,135,129],[-1.58,135,82],[-1.13,135,105]];
const h1Dips=[[-8.93,105,38],[-8.71,109,52],[-8.29,109,41],[-7.98,109,2],[-7.76,109,90],[-7.72,109,18],[-7.56,108,99],[-3.28,104,11],[-3.18,105,64],[-3.26,104,87],[-2.5,106,19.5],[-2.45,106,60],[-1.9,103,46],[-1.75,103,36],[-.55,100,22.5]];
const v1Dips=[[-15.2,44,40],[-12.4,44,38.5],[-11.5,44,40],[-10.2,42,24.7],[-9.98,42,36],[-8.1,41,36],[-6.56,41,26],[-6,41,34],[-5.1,41,37],[-4.3,41,30.4],[-1.9,41,38]];
const p4XMajor=[-15,-10,-5];
const p4XMinor=[-17,-16,-14,-13,-12,-11,-9,-8,-7,-6,-4,-3,-2,-1];
const p4YMajor=[20,40,60,80,100,120,140];
const p4YMinor=[5,10,15,25,30,35,45,50,55,65,70,75,85,90,95,105,110,115,125,130,135,145,150,155];
const p4Legend=[['H1','#ff0000'],['L1','#41608f'],['V1','#aa00ee']];
const rootButtons=['Reset','Zoom','Active','New','Options...','Import...','Export...','Reference...','Calibration...','Print...'];

// ---------- helpers
const FONT='"Liberation Sans"';
const u8=a=>a.map(p=>[p[0],p[1]*1e-8]);
const u17=a=>a.map(p=>[p[0],p[1]*1e-17]);
function segs(list,scale=1){const o=[];for(const [x,a,b] of list){o.push([x,a*scale],[x,b*scale],[x,'-']);}return o;}
function evenly(vals,start,step){return vals.map((v,i)=>[+(start+i*step).toFixed(3),v]);}
function line(gi,data,color,width,z,extra){return Object.assign({type:'line',xAxisIndex:gi,yAxisIndex:gi,data,showSymbol:false,symbol:'none',silent:true,z:z||3,lineStyle:{color,width,join:'bevel'},itemStyle:{color},animation:false,connectNulls:false},extra||{});}
// rules: [axis 'x'|'y', value, side 't','b','l','r','g'(full span), length]
function rules(gi,list,color,width,dash,z,anchorX,anchorY){
  return {type:'custom',xAxisIndex:gi,yAxisIndex:gi,silent:true,z:z,clip:false,
    data:list.map(r=>r[0]==='x'?[r[1],anchorY]:[anchorX,r[1]]),
    renderItem(p,api){const r=list[p.dataIndex],c=p.coordSys;let x1,y1,x2,y2;
      if(r[0]==='x'){const q=Math.round(api.coord([r[1],anchorY])[0])+.5;x1=x2=q;
        if(r[2]==='g'){y1=c.y;y2=c.y+c.height}else if(r[2]==='b'){y2=c.y+c.height;y1=y2-r[3]}else{y1=c.y;y2=y1+r[3]}}
      else{const q=Math.round(api.coord([anchorX,r[1]])[1])+.5;y1=y2=q;
        if(r[2]==='g'){x1=c.x;x2=c.x+c.width}else if(r[2]==='l'){x1=c.x;x2=x1+r[3]}else{x2=c.x+c.width;x1=x2-r[3]}}
      return {type:'line',shape:{x1,y1,x2,y2},style:{stroke:color,lineWidth:width,lineDash:dash||null,fill:null},silent:true};}};
}
function bars(gi,list,color,z){return {type:'custom',xAxisIndex:gi,yAxisIndex:gi,silent:true,z:z,data:list.map(b=>[b[0],b[2]]),
  renderItem(p,api){const b=list[p.dataIndex],a=api.coord([b[0],b[3]]),e=api.coord([b[1],b[2]]);
    return {type:'rect',shape:{x:a[0],y:a[1],width:e[0]-a[0],height:e[1]-a[1]},style:{fill:color},silent:true};}};}

// chrome drawing
const G=[];
const R=(x,y,w,h,fill,o)=>G.push(Object.assign({type:'rect',silent:true,z:0,shape:{x,y,width:w,height:h,r:(o&&o.r)||0},style:{fill,stroke:o&&o.stroke||null,lineWidth:o&&o.lw||1}},o&&o.z!=null?{z:o.z}:{}));
const L=(x1,y1,x2,y2,c,w,o)=>G.push({type:'line',silent:true,z:o&&o.z!=null?o.z:1,shape:{x1,y1,x2,y2},style:{stroke:c,lineWidth:w||1,lineDash:o&&o.dash||null}});
const T=(s,x,y,font,fill,al,o)=>G.push({type:'text',silent:true,z:o&&o.z!=null?o.z:1,x,y,rotation:o&&o.rot||0,style:{text:s,font,fill,align:al||'center',verticalAlign:'middle',textAlign:al||'center',textVerticalAlign:'middle'}});
function rowButtons(y0,y1,xs,labels,cxs,fs){xs.forEach(x=>{L(x,y0,x,y1,'#fff',2,{});L(x-1,y0,x-1,y1,'#8a8a8a',1)});
  labels.forEach((s,i)=>T(s,cxs[i],(y0+y1)/2,`${fs}px ${FONT}`,'#222'));}
function btn(x0,y0,x1,y1,s,color,bold){R(x0,y0,x1-x0,y1-y0,'#dfe1e2');L(x0,y0,x1,y0,'#fff',1);L(x0,y0,x0,y1,'#fff',1);L(x0,y1,x1,y1,'#333',2);L(x1,y0,x1,y1,'#333',1.5);
  T(s,(x0+x1)/2,(y0+y1)/2,`${bold?'bold ':''}17px ${FONT}`,color);}

// --- left panel chrome
R(0,934,1834,43,'#e8e8e8');
L(0,964,1814,964,'#8c8c8c',1.5);L(0,969.5,1814,969.5,'#8c8c8c',1.5);L(0,940,1814,940,'#fff',1.5);
rowButtons(940,964,[149,335,519.5,704,889,1074.5,1259,1444,1629.6],rootButtons,[57,242,427,612,796,982,1167,1352,1537,1722],15);
R(4,4,702,47,'#000');R(2,2,702,46,'#f2f2f2',{stroke:'#000',lw:1.5});
T('Power spectrum',355,25,`bold 36px ${FONT}`,'#000');
T('*T0=05/05/2019 13:50:34',22,911,`bold 34.5px ${FONT}`,'#ff0000','left');
T('Avg=44/Bin=5L',778,911,`bold 34.5px ${FONT}`,'#000','left');
T('BW=0.187493',1563,911,`bold 34.5px ${FONT}`,'#000','left');
// legend panel 1
R(1031,113,667,87,'#000',{z:20});R(1026,110,667,87,'#fff',{stroke:'#000',lw:1.5,z:21});
L(1050,132,1168,132,'#ff0000',1.5,{z:22});L(1050,175,1168,175,'#0000ff',1.5,{z:22});
T(p1LegendNames[0],1193,132,`bold 24px ${FONT}`,'#000','left',{z:22});T(p1LegendNames[1],1193,176,`bold 24px ${FONT}`,'#000','left',{z:22});

// --- middle upper window chrome
R(1822,0,10,934,'#e4e4e4');R(1835,724,7,253,'#000');R(1842,0,12,426,'#04181c');
R(1854,0,908,426,'#e0e0e0');L(1854,1,3762,1,'#000',1.5,{dash:[4,3]});
L(1860,14,3750,14,'#fff',1.5);L(1860,20,3752,20,'#666',1.5);
[['Input',1903],['Measurement',1990],['Excitation',2079],['Result',2169]].forEach(a=>T(a[0],a[1],8,`13px ${FONT}`,'#222'));
L(1946,1,1946,14,'#555',1);L(2034,1,2034,14,'#555',1);L(2218,1,2218,14,'#555',1);
R(1887,21,1865,318,'#ffffff');L(1887,21,1887,339,'#333',1);L(1887,339,3752,339,'#d0d0d0',1);
R(1865,20,18,17,'#dedede',{stroke:'#888'});R(1865,40,18,17,'#dedede',{stroke:'#888'});T('▶',1874,28,`9px "DejaVu Sans"`,'#111');T('▲',1874,49,`9px "DejaVu Sans"`,'#111');
R(1907,25,133,17,'#000');R(1905,23,133,17,'#eef0f4',{stroke:'#000',lw:1});
T('aLIGO DARM',1971,31.5,`bold 13px ${FONT}`,'#41608f');
T('*T0=28/02/2019 13:12:41',1926,332,`14px ${FONT}`,'#ffaa00','left');
T('*BW=0.187493',3632,332,`14px ${FONT}`,'#ffaa00','left');
R(3229,28,507,57,'#000',{z:20});R(3225,25,508,56,'#fff',{stroke:'#000',lw:1,z:21});
[['#d40000',30],['#ffaa00',41],['#41608f',53],[null,63],['#7b0070',75]].forEach((a,i)=>{
  if(a[0])L(3243,a[1],3332,a[1],a[0],i==4?4:2.5,{z:22});else{L(3281,59,3293,71,'#006400',1,{z:22});L(3293,59,3281,71,'#006400',1,{z:22});}
  T(p2LegendNames[i],3351,a[1],`bold 10.5px ${FONT}`,'#000','left',{z:22});});
L(1864,347,3752,347,'#fff',1.5);L(1864,369.5,3752,369.5,'#222',2);L(1858,375,3760,375,'#333',1.5);L(1858,378,3760,378,'#fff',1);
rowButtons(347,369,[2051,2240,2429.5,2618,2807,2996.6,3185,3374,3563.5],rootButtons,[1958,2146,2335,2524,2713,2901,3091,3280,3469,3658],15);
btn(1905,389,2281.5,410,'Start','#888');btn(2382,389,2758.5,410,'Pause','#000',true);btn(2859,389,3235,410,'Resume','#888');btn(3336,389,3712,410,'Abort','#000',true);
R(1854,414,908,12,'#a6d0ec');L(1856,418,3760,418,'#6a8fac',1.5);
// --- lower window chrome
R(1844,424,1908,24,'#d4d0cc');R(1844,448,1908,529,'#1a271e');R(3752,426,14,551,'#1c3a52');R(3766,0,6,977,'#000');
T('DARMblms.stp Graph',2790,437,`15px ${FONT}`,'#333');
[0,1].forEach(i=>{G.push({type:'circle',silent:true,z:1,shape:{cx:1856+i*22,cy:436,r:7},style:{fill:'#e4e2de',stroke:'#aaa'}});});
[3692,3715,3738].forEach(x=>G.push({type:'circle',silent:true,z:1,shape:{cx:x,cy:436,r:7},style:{fill:'#e4e2de',stroke:'#aaa'}}));
['v','^','x'].forEach((s,i)=>T(s,[3692,3715,3738][i],436,`11px ${FONT}`,'#333'));
T('DARMblms.stp',2717,457,`15px ${FONT}`,'#c8e8b8');
T('May 05, 2019',3535,969,`14px ${FONT}`,'#c8e8b8','right');
stripRange.forEach((r,i)=>{const y=448.5+i*32;R(3542,y,209,16,'#1a271e',{stroke:r[2],lw:2,z:2});T(r[0],3546,y+8,`13px ${FONT}`,'#c8e8b8','left',{z:3});T(r[1],3546,y+24,`13px ${FONT}`,'#c8e8b8','left',{z:3});});
G.push({type:'polygon',silent:true,z:30,shape:{points:[[1848,52],[1848,70],[1852,66],[1855,72],[1858,71],[1855,65],[1860,65]]},style:{fill:'#fff',stroke:'#000',lineWidth:1}});

// --- right window chrome
R(3772,0,1232,36,'#ededeb');L(3772,36.5,5004,36.5,'#c2c2c0',1.5);
G.push({type:'circle',silent:true,z:1,shape:{cx:3794,cy:17,r:15},style:{fill:'#f6f6f5',stroke:'#b8b8b6'}});
T('←',3794,17,`20px "DejaVu Sans"`,'#444');T('→',3827,17,`20px "DejaVu Sans"`,'#aaa');T('⟳',3859,17,`18px "DejaVu Sans"`,'#444');T('⌂',3891,17,`18px "DejaVu Sans"`,'#444');
R(3993,3,678,27,'#fff',{stroke:'#c4c4c2',r:3,z:1});R(4682,3,197,27,'#fff',{stroke:'#c4c4c2',r:3,z:1});
G.push({type:'text',silent:true,z:2,x:4046,y:17,style:{text:'{g|https://lhocds.ligo-wa.}{k|caltech.edu}{g|/cr_screens/png/nuc0_root.png}',rich:{g:{fontSize:13.2,fontFamily:'"Open Sans"',fill:'#777'},k:{fontSize:13.2,fontFamily:'"Open Sans"',fill:'#111'}},verticalAlign:'middle',textVerticalAlign:'middle'}});
T('ⓘ',4008,17,`14px "DejaVu Sans"`,'#444');R(4025,13,12,10,'#18c018',{z:2});
T('•••',4601,17,`10px ${FONT}`,'#555');T('♥',4629,17,`15px "DejaVu Sans"`,'#555');T('☆',4657,17,`16px "DejaVu Sans"`,'#444');
T('⌕',4699,17,`18px "DejaVu Sans"`,'#666');T('Search',4714,17,`13.5px "Open Sans"`,'#888','left');
T('|||\\',4981,17,`15px "DejaVu Sans"`,'#444');
R(4933,42,63,118,'#000',{z:20});R(4928.5,38,63.5,118,'#fff',{stroke:'#000',lw:1,z:21});
p4Legend.forEach((a,i)=>{const y=[58,97,137][i];L(4930,y,4942,y,a[1],3,{z:22});T(a[0],4945,y+1,`bold 24px ${FONT}`,'#000','left',{z:22});});
T('Avg=1',4062,885,`bold 34px ${FONT}`,'#000','left');
R(3772,905,1232,72,'#dfdfdf');L(3772,905.5,5004,905.5,'#f5f5f5',1.5);L(3772,912,5004,912,'#fff',1.5);L(3772,935,5004,935,'#333',2);L(3772,941,5004,941,'#333',1.5);L(3772,944,5004,944,'#fff',1);
rowButtons(912,935,[3904.4,4095,4284.6,4474,4665,4854],rootButtons.slice(3),[3810,4000,4190,4380,4570,4760,4950],15);
btn(3772,952,4073,973,'Run','#888');btn(4124,952,4554,973,'Stop','#000');btn(4604,952,5004,973,'Exit','#000');

// ---------- axes
const expLabel=v=>{const e=Math.round(Math.log10(v));return `{a|10}{b|${(e<0?'\u2212':'')+Math.abs(e)}}`;};
const freqLabel=v=>{const e=Math.round(Math.log10(v));return e===1?'{c|10}':`{a|10}{b|${e}}`;};
const tok=(fs,lh,va,pad)=>({fontFamily:FONT,fontWeight:'bold',fontSize:fs,lineHeight:lh,color:'#000',verticalAlign:va,padding:pad||0});
const richBig={a:tok(34,34,'bottom'),b:tok(20,20,'top',[0,0,24,0]),c:tok(34,34,'bottom',[10,0,0,0])};
const richSmall={a:tok(10,11,'bottom'),b:tok(7,7,'top',[0,0,7,0]),c:tok(10,11,'bottom',[3,0,0,0])};
const grids=[
 {left:169,top:91,width:1560.5,height:673,show:true,backgroundColor:'#fff',borderColor:'#000',borderWidth:1.5},
 {left:2055,top:53,width:1658,height:260,show:true,backgroundColor:'#fff',borderColor:'#000',borderWidth:1.5},
 {left:1894,top:466,width:1641,height:476,show:false},
 {left:3774,top:117,width:1181,height:629,show:false}];
const xAxes=[
 {gridIndex:0,type:'log',logBase:10,min:7,max:7050,name:'Frequency (Hz)',nameLocation:'middle',nameGap:70,nameTextStyle:{fontFamily:FONT,fontWeight:'bold',fontSize:36,color:'#000'},axisLine:{show:false},axisTick:{show:false},splitLine:{show:false},minorTick:{show:false},
  axisLabel:{customValues:p1XMajor,formatter:freqLabel,rich:richBig,margin:17,hideOverlap:false}},
 {gridIndex:1,type:'log',logBase:10,min:7,max:7050,name:'Frequency (Hz)',nameLocation:'middle',nameGap:19,nameTextStyle:{fontFamily:FONT,fontWeight:'bold',fontSize:13,color:'#000'},axisLine:{show:false},axisTick:{show:false},splitLine:{show:false},
  axisLabel:{customValues:p1XMajor,formatter:freqLabel,rich:richSmall,margin:2,hideOverlap:false}},
 {gridIndex:2,type:'value',min:-75,max:0,axisLine:{show:true,onZero:false,lineStyle:{color:'#b8dca8',width:1}},axisTick:{show:false},splitLine:{show:false},
  axisLabel:{customValues:stripXGrid,color:'#c8e8b8',fontFamily:FONT,fontSize:14,margin:9,hideOverlap:false,formatter:v=>v===0?'07:02:05':String(v)}},
 {gridIndex:3,type:'value',min:-17.75,max:0,name:'Time from now (h)',nameLocation:'middle',nameGap:68,nameMoveOverlap:false,nameTextStyle:{fontFamily:FONT,fontWeight:'bold',fontSize:34,color:'#000',padding:[0,415,0,0]},axisLine:{show:false},axisTick:{show:false},splitLine:{show:false},
  axisLabel:{customValues:[-15,-10,-5,0],fontFamily:FONT,fontWeight:'bold',fontSize:32,color:'#000',margin:22,hideOverlap:false,formatter:v=>String(v)}}];
const yAxes=[
 {gridIndex:0,type:'log',logBase:10,min:1.2e-8,max:1.36e-4,name:'Magnitude',nameLocation:'middle',nameGap:110,nameRotate:90,nameTextStyle:{fontFamily:FONT,fontWeight:'bold',fontSize:38,color:'#000'},axisLine:{show:false},axisTick:{show:false},splitLine:{show:false},
  axisLabel:{customValues:p1YMajor,formatter:expLabel,rich:richBig,margin:15,align:'right',hideOverlap:false}},
 {gridIndex:1,type:'log',logBase:10,min:9.1e-18,max:1.55e-12,name:'{t|ASD of displacement (m/Hz}{s|1/2}{t|)}',nameLocation:'middle',nameGap:118,nameRotate:90,nameTextStyle:{rich:{t:{fontFamily:'"DejaVu Sans"',fontWeight:'bold',fontSize:11.5,color:'#000',lineHeight:14,verticalAlign:'bottom'},s:{fontFamily:'"DejaVu Sans"',fontWeight:'bold',fontSize:8,color:'#000',lineHeight:8,verticalAlign:'top',padding:[0,0,6,0]}}},axisLine:{show:false},axisTick:{show:false},splitLine:{show:false},
  axisLabel:{customValues:p2YMajor,formatter:expLabel,rich:richSmall,margin:14,align:'right',hideOverlap:false}},
 {gridIndex:2,type:'value',min:-.3,max:.5,axisLine:{show:true,onZero:false,lineStyle:{color:'#b8dca8',width:1}},axisTick:{show:false},splitLine:{show:false},
  axisLabel:{customValues:stripYGrid,color:'#ad70e6',fontFamily:FONT,fontSize:15,margin:7,hideOverlap:false}},
 {gridIndex:3,type:'value',min:0,max:159.2,axisLine:{show:false},axisTick:{show:false},splitLine:{show:false},axisLabel:{show:false}}];

// ---------- rule sets
const p1R=[...p1XTicks.map(v=>['x',v,'g',0])];
const p1H=p1YMajor.map(v=>['y',v,'g',0]);
const p1Tk=[...p1XTicks.flatMap(v=>{const m=p1XMajor.includes(v);return [['x',v,'t',m?24:13],['x',v,'b',m?24:13]];}),
 ...p1YMajor.flatMap(v=>[['y',v,'l',40],['y',v,'r',40]]),...p1YMinor.flatMap(v=>[['y',v,'l',20],['y',v,'r',20]])];
const p2Minor=p2YMajor.slice(0,5).flatMap(d=>p2YMinor.map(m=>m*d));
const p2Tk=[...p2XTicks.flatMap(v=>[['x',v,'b',p1XMajor.includes(v)?10:5],['x',v,'t',p1XMajor.includes(v)?10:5]]),
 ...p2YMajor.flatMap(v=>[['y',v,'l',46],['y',v,'r',46]]),...p2Minor.flatMap(v=>[['y',v,'l',23],['y',v,'r',23]])];
const s3Tk=[...stripXMinor.concat(stripXGrid).map(v=>['x',v,'b',4]),...stripYMinor.concat(stripYGrid).map(v=>['y',v,'l',3])];
const p4Tk=[...p4XMajor.flatMap(v=>[['x',v,'t',22],['x',v,'b',24]]),...p4XMinor.flatMap(v=>[['x',v,'t',11],['x',v,'b',11]]),
 ...p4YMajor.map(v=>['y',v,'r',40]),...p4YMinor.map(v=>['y',v,'r',21]),['y',0,'g',0],['y',159.2,'g',0],['x',0,'g',0]];

const series=[
 // panel 1
 rules(0,p1R,'#000',1,[1.5,3],1,7,1e-6),rules(0,p1H,'#000',1,[2,2.5],1,7,1e-6),
 line(0,u8(dqLow),'#0000ff',1,3),line(0,u8(dqMain),'#0000ff',3,3),line(0,segs(dqSpikes,1e-8),'#0000ff',1.4,3),
 line(0,u8(refLow),'#ff0000',1,4),line(0,u8(refMid),'#ff0000',1.3,4),line(0,u8(refHigh),'#ff0000',3.2,4),line(0,segs(refSpikes,1e-8),'#ff0000',1.6,4),
 rules(0,p1Tk,'#000',1.2,null,5,7,1e-6),
 // panel 2
 rules(1,p1R,'#000',1,[1.5,3],1,7,1e-15),rules(1,p2YMajor.map(v=>['y',v,'g',0]),'#000',1,[1.5,2.5],1,7,1e-15),
 line(1,u17(darmPcal),'#006400',.8,3),line(1,segs(darmGwinc,1e-17),'#7b0070',4,3),
 line(1,u17(darmL1),'#41608f',2,3),line(1,segs(darmSpikesL1,1e-17),'#41608f',1.5,3),
 line(1,u17(darmH1Ref),'#ffaa00',2,4),line(1,segs(darmSpikesH1Ref,1e-17),'#ffaa00',2,4),
 line(1,u17(darmLive),'#d40000',2,5),
 rules(1,p2Tk,'#000',1.2,null,6,7,1e-15),
 // panel 3
 rules(2,stripYGrid.map(v=>['y',v,'g',0]),'#e6e6e6',1,[4,3],1,-75,0),rules(2,stripXGrid.map(v=>['x',v,'g',0]),'#e6e6e6',1,[5,4],1,-75,0),
 rules(2,s3Tk,'#b8dca8',1,null,2,-75,0),
 line(2,evenly(greenAll,-75,stripDStep),'#7fba20',2.2,3),line(2,evenly(salmonAll,-75,stripDStep),'#f4a08c',2.2,4),
 line(2,evenly(darkRedA,stripAStart,stripAStep),'#a52a2a',1.8,3),line(2,evenly(darkRedB,stripEStart,stripEStep),'#a52a2a',1.8,3),line(2,segs(stripRedSpikes),'#a52a2a',2,3),
 line(2,evenly(purpleA,stripAStart,stripAStep),'#ad70e0',1.9,5),line(2,evenly(purpleB,stripBStart,stripBStep),'#ad70e0',1.9,5),line(2,evenly(purpleC,stripCStart,stripBStep),'#ad70e0',1.9,5),
 bars(2,bursts,'#ad70e0',5),bars(2,purpleBars,'#ad70e0',5),line(2,segs(stripPurpleSpikes),'#ad70e0',2,5),
 line(2,evenly(orangeA,stripAStart,stripAStep),'#f09a30',1.9,6),line(2,evenly(orangeB,stripBStart,stripBStep),'#f09a30',1.9,6),line(2,evenly(orangeC,stripCStart,stripBStep),'#f09a30',1.9,6),
 bars(2,orangeBars,'#f09a30',6),line(2,segs(stripOrangeSpikes),'#f09a30',2,6),
 line(2,yellowAll,'#e6e600',2.5,7),
 // panel 4
 rules(3,p4XMajor.map(v=>['x',v,'g',0]),'#000',1,[1.5,2.5],1,-10,0),rules(3,p4YMajor.map(v=>['y',v,'g',0]),'#000',1,[2,2.5],1,-10,0),
 line(3,evenly(v1Band,v1Start,v1Step),'#aa00ee',4.5,3),line(3,segs(v1Dips),'#aa00ee',2.5,3),
 line(3,l1Rise,'#41608f',2.5,4),line(3,evenly(l1Band,l1Start,l1Step),'#41608f',5,4),line(3,segs(l1Dips),'#41608f',5.5,4),
 line(3,h1Segments[0],'#ff0000',4,5),line(3,h1Segments[1],'#ff0000',4,5),line(3,segs(h1Dips),'#ff0000',5.5,5),
 line(3,h1Down,'#ff0000',6,5,{clip:false}),
 rules(3,p4Tk,'#000',1.3,null,6,-10,0)
];
// The sandbox window can be narrower than the 5004 px reference: scale the whole drawing to fit.
const host=document.getElementById('c');
host.style.transform=`scale(${window.innerWidth/5004},${window.innerHeight/977})`;
const chart=echarts.init(host,null,{renderer:'svg',width:5004,height:977});
chart.setOption({animation:false,backgroundColor:'#fff',grid:grids,xAxis:xAxes,yAxis:yAxes,series,graphic:{elements:G}});
</script></body></html>
